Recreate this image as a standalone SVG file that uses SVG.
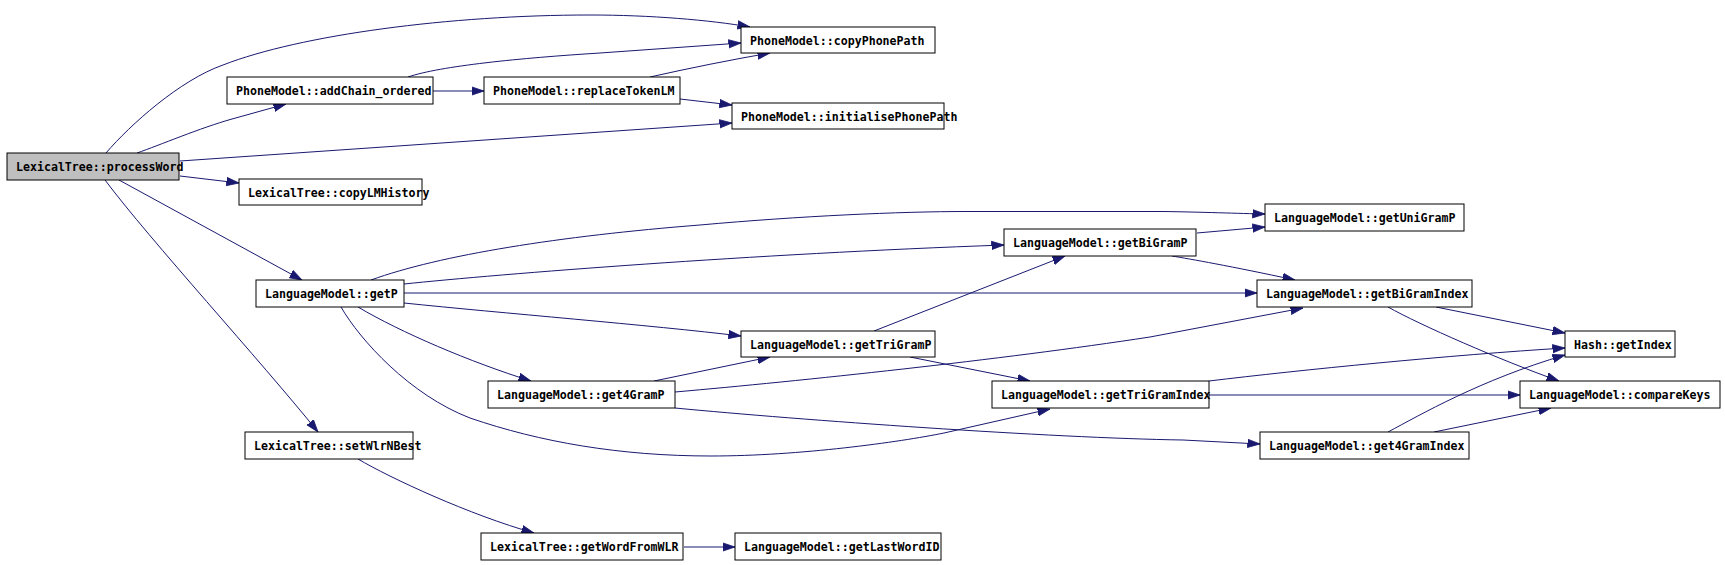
<svg xmlns="http://www.w3.org/2000/svg" width="1725" height="565" viewBox="0 0 1725 565">
<style>
.n rect{fill:#fff;stroke:#000;stroke-width:1}
.n.root rect{fill:#bfbfbf}
.n text{font-family:"DejaVu Sans Mono","Liberation Mono",monospace;font-size:11.6px;font-weight:bold;fill:#000}
.e path{fill:none;stroke:#191970;stroke-width:1;marker-end:url(#ah)}
</style>
<defs>
<marker id="ah" markerUnits="userSpaceOnUse" markerWidth="13" markerHeight="10" viewBox="0 0 13 10" refX="12.5" refY="5" orient="auto">
<path d="M0,0.8 L12.5,5 L0,9.2 Z" fill="#191970" stroke="#191970" stroke-width="0.8"/>
</marker>
</defs>
<rect width="1725" height="565" fill="#fff"/>
<g id="edges" class="e">
<path d="M106,153 C130,125 180,80 223,65 C300,35 450,15 590,15 C650,15 710,20 750,27"/>
<path d="M137,153 C160,145 200,128 232,119 L286,104"/>
<path d="M180,161 L732,123"/>
<path d="M180,176 L239,183"/>
<path d="M119,180 L302,280"/>
<path d="M105,180 C150,240 260,360 318,432"/>
<path d="M408,77 C440,66 520,58 600,53 L741,43"/>
<path d="M433,91 L484,91"/>
<path d="M650,77 C690,68 730,60 770,53"/>
<path d="M680,99 L732,105"/>
<path d="M371,280 C440,255 560,236 700,225 C800,216 900,211.5 967,211.5 L1163,211.5 C1200,212 1240,213.5 1265,214"/>
<path d="M404,284 C500,274 750,254 1004,245"/>
<path d="M404,293 L1257,293"/>
<path d="M404,303 C500,313 650,325 741,336"/>
<path d="M358,307 C400,332 470,362 531,381"/>
<path d="M341,307 C360,340 410,395 470,418 C540,442 620,456 711,456 C800,456 900,442 944,433 L1050,409"/>
<path d="M1197,233 L1265,227"/>
<path d="M1172,256 C1190,259 1230,266 1295,280"/>
<path d="M874,331 L1065,256"/>
<path d="M910,357 L1030,381"/>
<path d="M654,381 L770,357"/>
<path d="M675,392 C800,381 1000,360 1150,337 L1303,308"/>
<path d="M675,408 C800,420 1050,438 1183,440 L1260,444"/>
<path d="M1436,307 L1565,333"/>
<path d="M1388,307 C1420,325 1500,360 1559,381"/>
<path d="M1209,381 C1300,370 1450,355 1565,348"/>
<path d="M1209,395 L1520,395"/>
<path d="M1388,432 C1420,415 1480,380 1565,355"/>
<path d="M1434,432 L1551,408"/>
<path d="M358,459 C390,478 470,515 534,533"/>
<path d="M684,547 L735,547"/>
</g>
<g id="n_processWord" class="n root"><rect x="7" y="153" width="172" height="27"/><text x="16" y="171">LexicalTree::processWord</text></g>
<g id="n_addChain_ordered" class="n"><rect x="227" y="77" width="206" height="27"/><text x="236" y="95">PhoneModel::addChain_ordered</text></g>
<g id="n_replaceTokenLM" class="n"><rect x="484" y="77" width="196" height="27"/><text x="493" y="95">PhoneModel::replaceTokenLM</text></g>
<g id="n_copyLMHistory" class="n"><rect x="239" y="179" width="183" height="26"/><text x="248" y="197">LexicalTree::copyLMHistory</text></g>
<g id="n_copyPhonePath" class="n"><rect x="741" y="27" width="194" height="26"/><text x="750" y="45">PhoneModel::copyPhonePath</text></g>
<g id="n_initialisePhonePath" class="n"><rect x="732" y="103" width="212" height="26"/><text x="741" y="121">PhoneModel::initialisePhonePath</text></g>
<g id="n_getP" class="n"><rect x="256" y="280" width="148" height="27"/><text x="265" y="298">LanguageModel::getP</text></g>
<g id="n_get4GramP" class="n"><rect x="488" y="381" width="187" height="27"/><text x="497" y="399">LanguageModel::get4GramP</text></g>
<g id="n_setWlrNBest" class="n"><rect x="245" y="432" width="168" height="27"/><text x="254" y="450">LexicalTree::setWlrNBest</text></g>
<g id="n_getWordFromWLR" class="n"><rect x="481" y="533" width="202" height="27"/><text x="490" y="551">LexicalTree::getWordFromWLR</text></g>
<g id="n_getLastWordID" class="n"><rect x="735" y="533" width="206" height="27"/><text x="744" y="551">LanguageModel::getLastWordID</text></g>
<g id="n_getBiGramP" class="n"><rect x="1004" y="229" width="192" height="27"/><text x="1013" y="247">LanguageModel::getBiGramP</text></g>
<g id="n_getTriGramP" class="n"><rect x="741" y="331" width="194" height="26"/><text x="750" y="349">LanguageModel::getTriGramP</text></g>
<g id="n_getTriGramIndex" class="n"><rect x="992" y="381" width="217" height="27"/><text x="1001" y="399">LanguageModel::getTriGramIndex</text></g>
<g id="n_getUniGramP" class="n"><rect x="1265" y="204" width="199" height="27"/><text x="1274" y="222">LanguageModel::getUniGramP</text></g>
<g id="n_getBiGramIndex" class="n"><rect x="1257" y="280" width="215" height="27"/><text x="1266" y="298">LanguageModel::getBiGramIndex</text></g>
<g id="n_hashGetIndex" class="n"><rect x="1565" y="331" width="110" height="26"/><text x="1574" y="349">Hash::getIndex</text></g>
<g id="n_compareKeys" class="n"><rect x="1520" y="381" width="200" height="27"/><text x="1529" y="399">LanguageModel::compareKeys</text></g>
<g id="n_get4GramIndex" class="n"><rect x="1260" y="432" width="209" height="27"/><text x="1269" y="450">LanguageModel::get4GramIndex</text></g>
</svg>
